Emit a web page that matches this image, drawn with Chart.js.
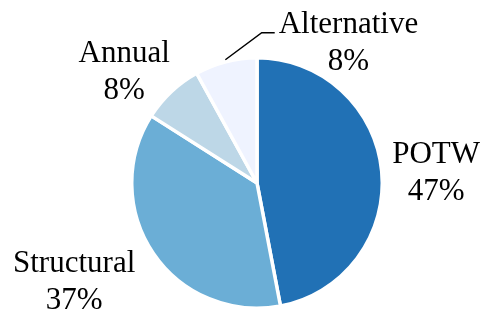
<!DOCTYPE html>
<html lang="en">
  <head>
    <meta charset="UTF-8" />
    <title>Pie</title>
    <script src="https://cdn.jsdelivr.net/npm/chart.js@4"></script>
    <style>
      html, body { margin: 0; padding: 0; background: #fff; }
      #wrap { width: 483px; height: 311px; }
    </style>
  </head>
  <body>
    <div id="wrap"><canvas id="myChart"></canvas></div>
  </body>
</html>

<script>
  const categorias = ["POTW", "Structural", "Annual", "Alternative"];
  const valores = [47, 37, 8, 8];
  const cores = ["#2171b5", "#6baed6", "#bdd7e7", "#eff3ff"];

  // label block placement, relative to pie centre, in radius units
  const labelOffsets = [
    [1.43, -0.16],
    [-1.46, 0.71],
    [-1.06, -0.97],
    [0.73, -1.2],
  ];

  const labelsPlugin = {
    id: "pieLabels",
    afterDatasetsDraw(chart) {
      const ctx = chart.ctx;
      const meta = chart.getDatasetMeta(0);
      const total = valores.reduce((a, b) => a + b, 0);
      ctx.save();
      ctx.font = "31px 'Liberation Serif', 'Times New Roman', serif";
      ctx.fillStyle = "#000";
      ctx.textAlign = "center";
      ctx.textBaseline = "alphabetic";
      meta.data.forEach((arc, i) => {
        const p = arc.getProps(["x", "y", "outerRadius", "startAngle", "endAngle"], true);
        const r = p.outerRadius;
        const lx = p.x + labelOffsets[i][0] * r;
        const ly = p.y + labelOffsets[i][1] * r;
        const pct = Math.round((valores[i] / total) * 100) + "%";
        ctx.fillText(categorias[i], lx, ly);
        ctx.fillText(pct, lx, ly + 37);

        // leader line for the small top slice
        if (i === 3) {
          const mid = (p.startAngle + p.endAngle) / 2;
          const sx = p.x + Math.cos(mid) * (r + 2);
          const sy = p.y + Math.sin(mid) * (r + 2);
          const w = ctx.measureText(categorias[i]).width;
          const ex = lx - w / 2 - 4;
          ctx.beginPath();
          ctx.strokeStyle = "#000";
          ctx.lineWidth = 1.5;
          ctx.moveTo(sx, sy);
          ctx.lineTo(ex - 13, ly);
          ctx.lineTo(ex, ly);
          ctx.stroke();
        }
      });
      ctx.restore();
    },
  };

  new Chart(document.getElementById("myChart"), {
    type: "pie",
    data: {
      labels: categorias,
      datasets: [
        {
          data: valores,
          backgroundColor: cores,
          borderColor: "#ffffff",
          borderWidth: 3.5,
        },
      ],
    },
    options: {
      responsive: true,
      maintainAspectRatio: false,
      animation: false,
      layout: { padding: { left: 130, right: 99, top: 56, bottom: 1 } },
      plugins: {
        legend: { display: false },
        tooltip: { enabled: false },
      },
    },
    plugins: [labelsPlugin],
  });
</script>
